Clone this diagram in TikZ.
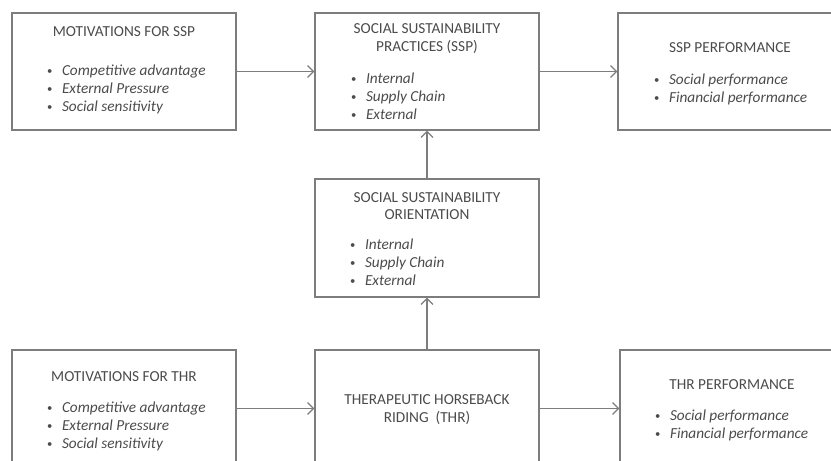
\documentclass[tikz,border=0pt]{standalone}
\usepackage{fontspec}
\setmainfont{Carlito}
\usetikzlibrary{arrows.meta}
\definecolor{linegrey}{RGB}{125,125,125}
\definecolor{textgrey}{RGB}{75,75,75}
\newcommand{\bitem}[1]{\makebox[15.6pt][l]{\hspace{0.8pt}\raisebox{1.3pt}{\scalebox{0.7}{\textbullet}}}\textit{#1}}

\begin{document}
\begin{tikzpicture}[x=1pt,y=-1pt,
    box/.style={draw=linegrey,line width=1.2pt,minimum width=224pt,minimum height=117pt,inner sep=0pt},
    boxtitle/.style={text=textgrey,align=center,font=\fontsize{15.3}{17.5}\selectfont},
    boxlist/.style={text=textgrey,align=left,anchor=base west,inner sep=0pt,font=\fontsize{15.3}{18}\selectfont},
    flow/.style={draw=linegrey,line width=1.2pt,-{Straight Barb[length=6pt,width=12pt]}}]
  \clip (0,0) rectangle (831,461);
  % boxes
  \node[box] (motssp) at (124,71.5) {};
  \node[box] (ssp) at (427,71.5) {};
  \node[box] (sspperf) at (730,71.5) {};
  \node[box,minimum height=118pt] (sso) at (427,238) {};
  \node[box] (motthr) at (124,408.5) {};
  \node[box] (thr) at (427,408.5) {};
  \node[box] (thrperf) at (732,408.5) {};
  % titles
  \node[boxtitle] (motssp-t) at (124,32) {MOTIVATIONS FOR SSP};
  \node[boxtitle] (ssp-t) at (427,38.5) {SOCIAL SUSTAINABILITY\\PRACTICES (SSP)};
  \node[boxtitle] (sspperf-t) at (730,48) {SSP PERFORMANCE};
  \node[boxtitle] (sso-t) at (427,206) {SOCIAL SUSTAINABILITY\\ORIENTATION};
  \node[boxtitle] (motthr-t) at (124,377) {MOTIVATIONS FOR THR};
  \node[boxtitle] (thr-t) at (427,409.5) {THERAPEUTIC HORSEBACK\\RIDING\ \ (THR)};
  \node[boxtitle] (thrperf-t) at (732,385) {THR PERFORMANCE};
  % bullet lists (base = last line)
  \node[boxlist] (motssp-l) at (46.2,111.6) {\bitem{Competitive advantage}\\\bitem{External Pressure}\\\bitem{Social sensitivity}};
  \node[boxlist] (ssp-l) at (350.2,119.6) {\bitem{Internal}\\\bitem{Supply Chain}\\\bitem{External}};
  \node[boxlist] (sspperf-l) at (653.2,102.6) {\bitem{Social performance}\\\bitem{Financial performance}};
  \node[boxlist] (sso-l) at (349.2,285.6) {\bitem{Internal}\\\bitem{Supply Chain}\\\bitem{External}};
  \node[boxlist] (motthr-l) at (46.2,448.6) {\bitem{Competitive advantage}\\\bitem{External Pressure}\\\bitem{Social sensitivity}};
  \node[boxlist] (thrperf-l) at (654.2,438.6) {\bitem{Social performance}\\\bitem{Financial performance}};
  % arrows
  \draw[flow] (motssp) -- (ssp);
  \draw[flow] (ssp) -- (sspperf);
  \draw[flow] (sso) -- (ssp);
  \draw[flow] (thr) -- (sso);
  \draw[flow] (motthr) -- (thr);
  \draw[flow] (thr.east) -- (thr.east -| thrperf.west);
\end{tikzpicture}
\end{document}
